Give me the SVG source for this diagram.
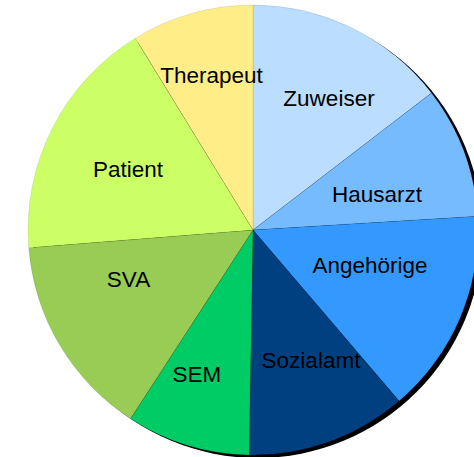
<svg xmlns="http://www.w3.org/2000/svg" width="474" height="457" viewBox="0 0 474 457">
<style>
.s{stroke:#000;stroke-opacity:0.15;stroke-width:0.6}
.t{font-family:"Liberation Sans",Arial,sans-serif;font-size:22.5px;fill:#000;text-anchor:middle}
</style>
<rect width="474" height="457" fill="#fff"/>
<circle id="shadow" cx="257.5" cy="233" r="225" fill="#000"/>
<g id="Zuweiser"><path class="s" d="M253,230 L253,5 A225,225 0 0 1 431.5,93 Z" fill="#BBDDFF"/><text class="t" x="329" y="106">Zuweiser</text></g>
<g id="Hausarzt"><path class="s" d="M253,230 L431.5,93 A225,225 0 0 1 477.6,216.3 Z" fill="#77BBFF"/><text class="t" x="377" y="201.7">Hausarzt</text></g>
<g id="Angehoerige"><path class="s" d="M253,230 L477.6,216.3 A225,225 0 0 1 399.1,401.1 Z" fill="#3399FF"/><text class="t" x="370" y="272.7">Angehörige</text></g>
<g id="Sozialamt"><path class="s" d="M253,230 L399.1,401.1 A225,225 0 0 1 249.1,455 Z" fill="#004080"/><text class="t" x="311" y="368.3">Sozialamt</text></g>
<g id="SEM"><path class="s" d="M253,230 L249.1,455 A225,225 0 0 1 130.5,418.7 Z" fill="#00CC66"/><text class="t" x="197" y="381.7">SEM</text></g>
<g id="SVA"><path class="s" d="M253,230 L130.5,418.7 A225,225 0 0 1 28.7,247.7 Z" fill="#99CC55"/><text class="t" x="128.5" y="287.3">SVA</text></g>
<g id="Patient"><path class="s" d="M253,230 L28.7,247.7 A225,225 0 0 1 135.4,38.2 Z" fill="#CCFF66"/><text class="t" x="128" y="177.3">Patient</text></g>
<g id="Therapeut"><path class="s" d="M253,230 L135.4,38.2 A225,225 0 0 1 253,5 Z" fill="#FFEE88"/><text class="t" x="211.5" y="83.3">Therapeut</text></g>
</svg>
